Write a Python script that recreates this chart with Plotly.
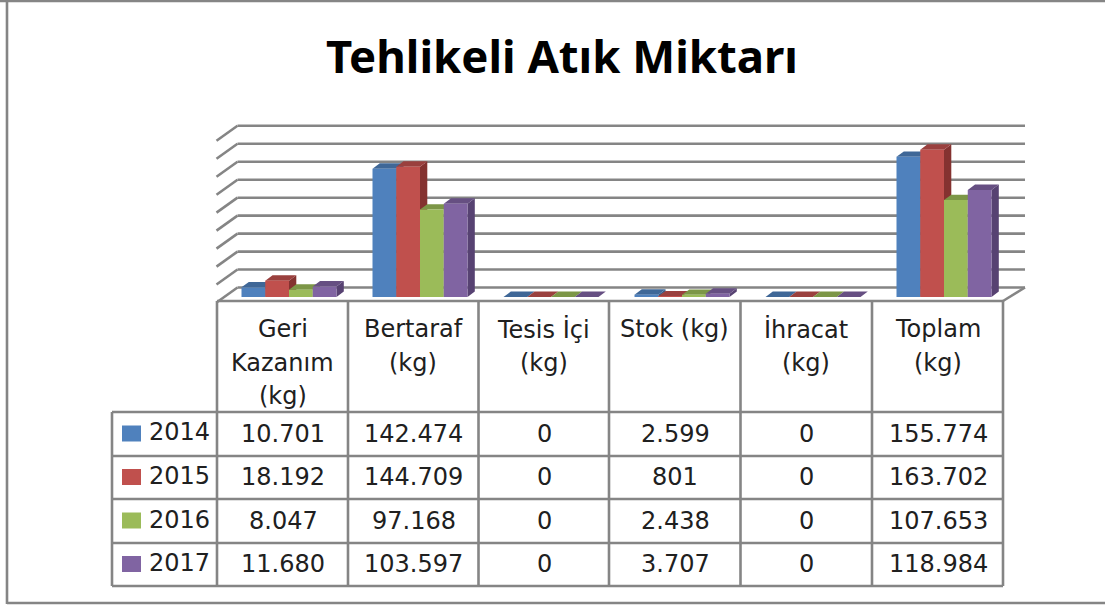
import plotly.graph_objects as go

W, H = 1105, 605

title = "Tehlikeli Atık Miktarı"
categories = ["Geri Kazanım (kg)", "Bertaraf (kg)", "Tesis İçi (kg)", "Stok (kg)", "İhracat (kg)", "Toplam (kg)"]
header_lines = [["Geri", "Kazanım", "(kg)"], ["Bertaraf", "(kg)"], ["Tesis İçi", "(kg)"],
                ["Stok (kg)"], ["İhracat", "(kg)"], ["Toplam", "(kg)"]]
series_names = ["2014", "2015", "2016", "2017"]
v2014 = [10701, 142474, 0, 2599, 0, 155774]
v2015 = [18192, 144709, 0, 801, 0, 163702]
v2016 = [8047, 97168, 0, 2438, 0, 107653]
v2017 = [11680, 103597, 0, 3707, 0, 118984]
series_values = [v2014, v2015, v2016, v2017]
front_colors = ["#4F81BD", "#C0504D", "#9BBB59", "#8064A2"]
top_colors = ["#3F6797", "#9A403E", "#7C9647", "#664F82"]
side_colors = ["#385D8A", "#843230", "#6B8238", "#574272"]

# scale: px per unit
PX_X = 131.0
PX_Y = 0.0009
X0 = 289.0
Y0 = 297.0
xr = [-X0 / PX_X, (W - X0) / PX_X]
yr = [(Y0 - H) / PX_Y, Y0 / PX_Y]
bar_w = 23.75 / PX_X
dx = 7.3 / PX_X
dy = 5.4 / PX_Y
pos = list(range(len(categories)))


def px(x):
    return x / W


def py(y):
    return 1 - y / H


def line(x0, y0, x1, y1, color="#858585", width=2.6, layer="below"):
    return dict(type="line", xref="paper", yref="paper", x0=px(x0), y0=py(y0), x1=px(x1), y1=py(y1),
                line=dict(color=color, width=width), layer=layer)


fig = go.Figure()

# depth faces of every column, back layer
for s, vals in enumerate(series_values):
    sx, sy, tx, ty = [], [], [], []
    for c, v in zip(pos, vals):
        left = c + (s - 2) * bar_w
        right = left + bar_w
        sx += [right, right + dx, right + dx, right, right, None]
        sy += [0, dy, v + dy, v, 0, None]
        tx += [left, left + dx, right + dx, right, left, None]
        ty += [v, v + dy, v + dy, v, v, None]
    fig.add_trace(go.Scatter(x=sx, y=sy, mode="lines", fill="toself", fillcolor=side_colors[s],
                             line=dict(width=0, color=side_colors[s]), hoverinfo="skip", showlegend=False))
    fig.add_trace(go.Scatter(x=tx, y=ty, mode="lines", fill="toself", fillcolor=top_colors[s],
                             line=dict(width=0, color=top_colors[s]), hoverinfo="skip", showlegend=False))

# front faces
for s, vals in enumerate(series_values):
    fig.add_trace(go.Bar(x=pos, y=vals, name=series_names[s], marker=dict(color=front_colors[s], line=dict(width=0)),
                         xaxis="x2", yaxis="y2", showlegend=False))

shapes = []
# outer frame
shapes += [line(0, 1, W, 1), line(7, 0, 7, 604), line(7, 603, W, 603)]
# gridlines on the back and side wall
GX0, GX1 = 216.5, 1025
for k in range(10):
    y = 125.8 + 17.97 * k
    shapes.append(line(GX0 + 21, y, GX1, y))
    shapes.append(line(GX0, y + 15, GX0 + 21, y))
shapes.append(line(1003, 301, 1025, 287.5))

# table
col_x = [217, 348, 478.5, 609, 740.5, 872, 1003]
row_y = [412, 456, 499, 543, 586]
shapes.append(line(217, 301, 1003, 301))
for x in col_x:
    shapes.append(line(x, 301, x, 586))
shapes.append(line(112, 412, 112, 586))
for y in row_y:
    shapes.append(line(112, y, 1003, y))

annotations = []
TEXT = "#202020"
FONT = "DejaVu Sans"


def label(text, x, y, anchor="center", size=24):
    annotations.append(dict(text=text, x=px(x), y=py(y), xref="paper", yref="paper", showarrow=False,
                            xanchor=anchor, yanchor="middle", font=dict(family=FONT, size=size, color=TEXT)))


col_c = [(col_x[i] + col_x[i + 1]) / 2 for i in range(6)]
for c, lines in zip(col_c, header_lines):
    for j, t in enumerate(lines):
        label(t, c, 329 + 33.7 * j)

row_c = [433.5, 477, 520.5, 564]
for s, (yc, vals) in enumerate(zip(row_c, series_values)):
    shapes.append(dict(type="rect", xref="paper", yref="paper", x0=px(122), x1=px(141), y0=py(yc + 8), y1=py(yc - 8),
                       fillcolor=front_colors[s], line=dict(width=0), layer="below"))
    label(series_names[s], 147, yc - 1, anchor="left")
    for c, v in zip(col_c, vals):
        label(f"{v:,}".replace(",", "."), c + 0.7, yc)

hidden = dict(visible=False, showgrid=False, zeroline=False)
fig.update_layout(
    width=W, height=H, margin=dict(l=0, r=0, t=0, b=0, pad=0),
    paper_bgcolor="white", plot_bgcolor="rgba(0,0,0,0)",
    barmode="group", bargap=1 - 4 * bar_w, bargroupgap=0,
    xaxis=dict(range=xr, fixedrange=True, **hidden),
    yaxis=dict(range=yr, fixedrange=True, **hidden),
    xaxis2=dict(range=xr, overlaying="x", fixedrange=True, **hidden),
    yaxis2=dict(range=yr, overlaying="y", fixedrange=True, **hidden),
    shapes=shapes, annotations=annotations,
    title=dict(text=title, x=562 / W, xanchor="center", y=py(57), yanchor="middle",
               font=dict(family="Noto Sans", size=45.5, color="#000000", weight="bold")),
    showlegend=False,
)

fig.write_html("out.html", config=dict(displayModeBar=False),
               post_script="document.body.style.margin='0';document.body.style.overflow='hidden';")
